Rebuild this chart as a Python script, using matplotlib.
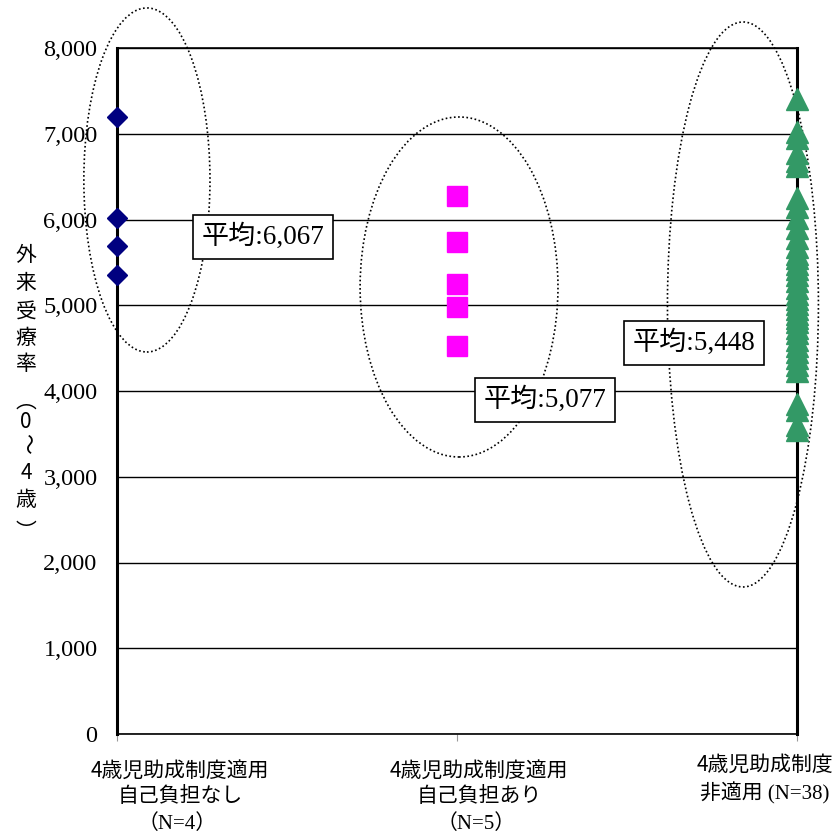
import numpy as np
import matplotlib.pyplot as plt
from matplotlib.patches import Ellipse

# --- data ---
groups = ["4歳児助成制度適用\n自己負担なし", "4歳児助成制度適用\n自己負担あり", "4歳児助成制度\n非適用"]
group_n = ["（N=4）", "（N=5）", " (N=38)"]
means = ["6,067", "5,077", "5,448"]

no_burden = [7200, 6020, 5690, 5358]
with_burden = [6274, 5738, 5248, 4983, 4529]
not_applied = [7400,
               7020, 6950, 6780, 6680, 6620,
               6250, 6150, 6020, 5900, 5780, 5680, 5600, 5550,
               5480, 5420, 5350, 5280, 5200, 5130, 5070, 5010, 4960, 4900,
               4850, 4800, 4740, 4680, 4600, 4530, 4460, 4380, 4300, 4230,
               3850, 3780, 3600, 3540]

yticks = np.arange(0, 8001, 1000)

W, H = 838, 836
fig = plt.figure(figsize=(W / 100, H / 100), dpi=100)
ax = fig.add_axes([117 / W, 1 - 734 / H, 680 / W, 686 / H])

serif = ['Liberation Serif', 'Noto Sans CJK JP']
sans = ['Noto Sans CJK JP', 'DejaVu Sans']

ax.set_xlim(0, 2)
ax.set_ylim(0, 8000)
ax.set_yticks(yticks)
ax.set_yticklabels([f"{v:,}" for v in yticks], family=serif, fontsize=17.5)
ax.tick_params(axis='y', length=0, pad=14)
ax.set_xticks([0, 1, 2])
ax.set_xticklabels([])
ax.tick_params(axis='x', length=5, color='#999999', direction='out')
ax.grid(axis='y', color='black', linewidth=1)
ax.set_axisbelow(True)
for side in ['left', 'right']:
    ax.spines[side].set_linewidth(2.2)
for side in ['top', 'bottom']:
    ax.spines[side].set_linewidth(1.2)

# markers
ax.plot(np.zeros(len(no_burden)), no_burden, 'D', color='#000080', ms=10.5,
        linestyle='none', clip_on=False, zorder=5)
ax.plot(np.ones(len(with_burden)), with_burden, 's', color='#FF00FF', ms=15,
        linestyle='none', clip_on=False, zorder=5)
ax.plot(np.full(len(not_applied), 2), not_applied, '^', color='#339966', ms=16,
        linestyle='none', clip_on=False, zorder=5)

# dotted ellipses
for cx, cy, w, h in [(0.088, 6461, 0.371, 4012),
                     (1.006, 5213, 0.582, 3965),
                     (1.841, 5009, 0.444, 6589)]:
    ax.add_patch(Ellipse((cx, cy), w, h, fill=False, edgecolor='black',
                         linewidth=1.2, linestyle=(0, (1, 1.5)), clip_on=False, zorder=4))

# mean boxes
for (x, y), m in zip([(0.429, 5796), (1.259, 3895), (1.697, 4560)], means):
    ax.text(x, y, "平均:" + m, family=serif, fontsize=19.5, ha='center', va='center',
            zorder=6, bbox=dict(boxstyle='square,pad=0.33', fc='white', ec='black', lw=1.2))

# y label, written vertically one character at a time
ychars = ["外", "来", "受", "療", "率", "︵", "0", "～", "4", "歳", "︶"]
ypos = [255, 283, 312, 338, 364, 402, 422, 443, 473, 500, 532]
for ch, py in zip(ychars, ypos):
    rot = -90 if ch == "～" else 0
    fig.text(26 / W, 1 - py / H, ch, family=sans, fontsize=15, rotation=rot,
             ha='center', va='center')

# category labels
for g, n, cx in zip(groups[:2], group_n[:2], [180, 479]):
    l1, l2 = g.split("\n")
    fig.text(cx / W, 1 - 771 / H, l1, family=sans, fontsize=15, ha='center', va='center')
    fig.text(cx / W, 1 - 796 / H, l2, family=sans, fontsize=15, ha='center', va='center')
    fig.text((cx - 3) / W, 1 - 824 / H, n, family=serif, fontsize=15, ha='center', va='center')

l1, l2 = groups[2].split("\n")
fig.text(697 / W, 1 - 765 / H, l1, family=sans, fontsize=15, ha='left', va='center')
fig.text(700 / W, 1 - 793 / H, l2 + group_n[2], family=serif, fontsize=15,
         ha='left', va='center')

fig.savefig("out.png", dpi=100)
